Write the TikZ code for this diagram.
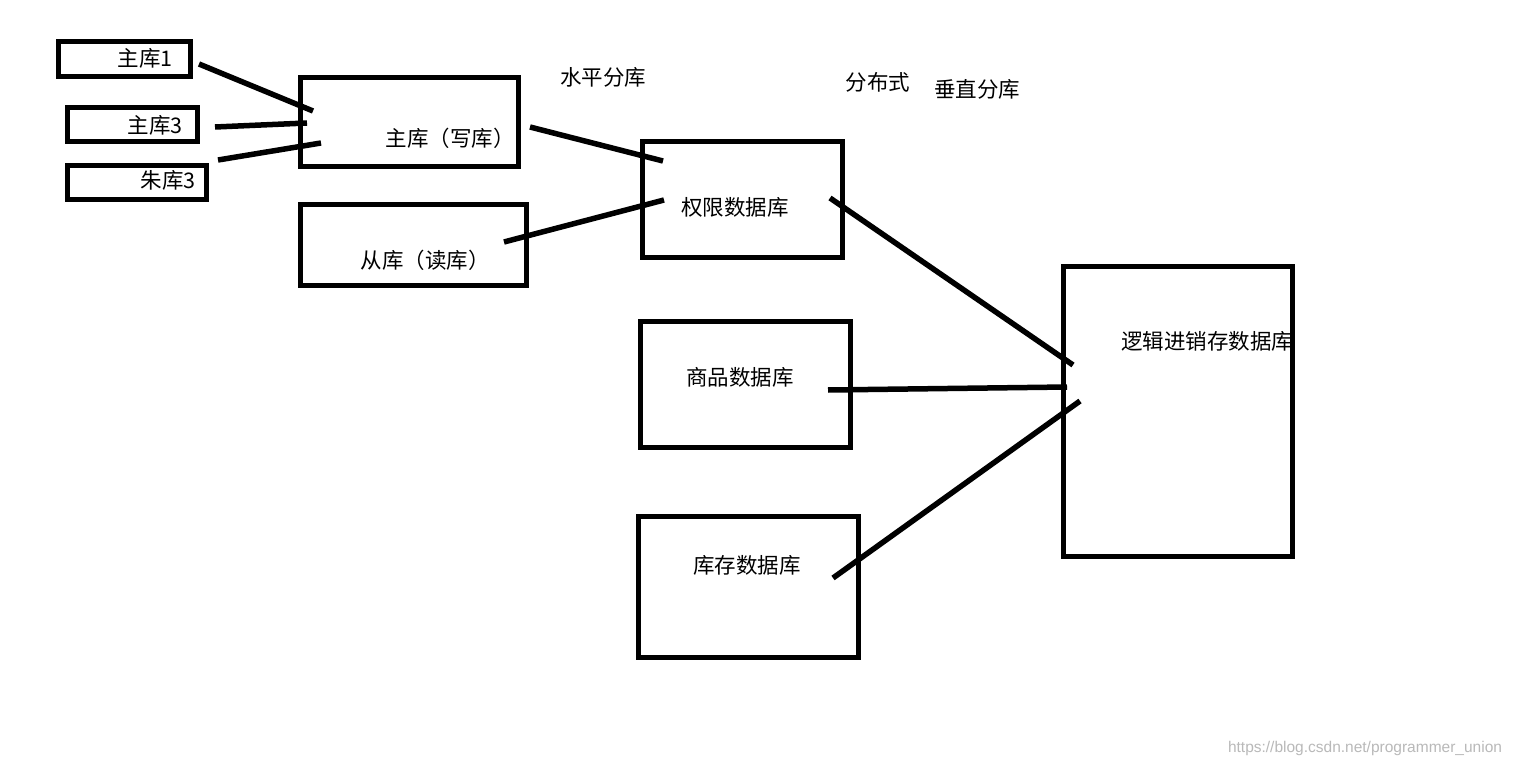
\documentclass[tikz,border=0pt]{standalone}
\usepackage{fontspec}
\setmainfont{Liberation Sans}
\newfontfamily\cjk{Noto Sans CJK SC}
\begin{document}
\begin{tikzpicture}[x=1pt,y=-1pt,
  box/.style={draw,line width=5pt},
  lbl/.style={font=\cjk\fontsize{21.5}{24}\selectfont,inner sep=0pt},
  ln/.style={line width=5.5pt}]
\useasboundingbox[fill=white] (0,0) rectangle (1514,767);
\draw[box] (58,42) rectangle (190,77);
\draw[box] (67,108) rectangle (197,142);
\draw[box] (67,166) rectangle (206,200);
\draw[box] (300,78) rectangle (518,167);
\draw[box] (300,205) rectangle (526,285);
\draw[box] (642,142) rectangle (842,258);
\draw[box] (640,321) rectangle (850,447);
\draw[box] (638,516) rectangle (858,657);
\draw[box] (1063,266) rectangle (1292,556);
\node[lbl] (m1) at (145,58) {主库1};
\node[lbl] (m3) at (155,125) {主库3};
\node[lbl] (z3) at (168,180) {朱库3};
\node[lbl] (w) at (450,138) {主库（写库）};
\node[lbl] (r) at (425,260) {从库（读库）};
\node[lbl] (q) at (735,207) {权限数据库};
\node[lbl] (s) at (740,377) {商品数据库};
\node[lbl] (k) at (747,565) {库存数据库};
\node[lbl] (l) at (1207,341) {逻辑进销存数据库};
\node[lbl] at (603,77) {水平分库};
\node[lbl] at (878,82) {分布式};
\node[lbl] at (977,89) {垂直分库};
\node[inner sep=0pt,text=gray!55,font=\fontsize{15.5}{18}\selectfont] at (1365,748) {https://blog.csdn.net/programmer\_union};
\coordinate (a1) at (199,64); \coordinate (a2) at (313,111);
\coordinate (b1) at (215,127); \coordinate (b2) at (307,123);
\coordinate (c1) at (218,160); \coordinate (c2) at (321,143);
\coordinate (d1) at (530,127); \coordinate (d2) at (663,161);
\coordinate (e1) at (504,242); \coordinate (e2) at (664,200);
\coordinate (f1) at (830,198); \coordinate (f2) at (1073,365);
\coordinate (g1) at (828,390); \coordinate (g2) at (1067,387);
\coordinate (h1) at (833,578); \coordinate (h2) at (1080,401);
\foreach \p in {a,b,c,d,e,f,g,h} \draw[ln] (\p1) -- (\p2);
\end{tikzpicture}
\end{document}
